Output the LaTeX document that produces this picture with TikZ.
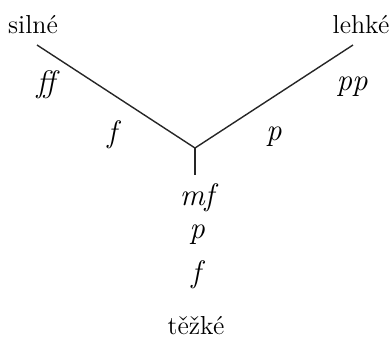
\documentclass[tikz,border=0pt]{standalone}
\begin{document}
\begin{tikzpicture}[x=0.5pt,y=-0.5pt,
  lbl/.style={anchor=base,inner sep=0pt,font=\fontsize{13}{15}\selectfont},
  dyn/.style={lbl,font=\fontsize{15.5}{18}\selectfont\itshape},
  edge/.style={line width=0.7pt,black!85}]
\useasboundingbox (0,0) rectangle (392,338);
\coordinate (L) at (37,45);
\coordinate (R) at (353,45);
\coordinate (J) at (195,148);
\coordinate (B) at (195,175);
\draw[edge] (L) -- (J) -- (R);
\draw[edge] (J) -- (B);
\node[lbl] (silne) at (33,33) {silné};
\node[lbl] (lehke) at (361,33) {lehké};
\node[dyn] (ff) at (46,92) {ff};
\node[dyn] (f1) at (112,142) {f};
\node[dyn] (p1) at (274,140) {p};
\node[dyn] (pp) at (352,90) {pp};
\node[dyn] (mf) at (197,205) {mf};
\node[dyn] (p2) at (197,238) {p};
\node[dyn] (f2) at (196,282) {f};
\node[lbl] (tezke) at (196,334) {těžké};
\end{tikzpicture}
\end{document}
